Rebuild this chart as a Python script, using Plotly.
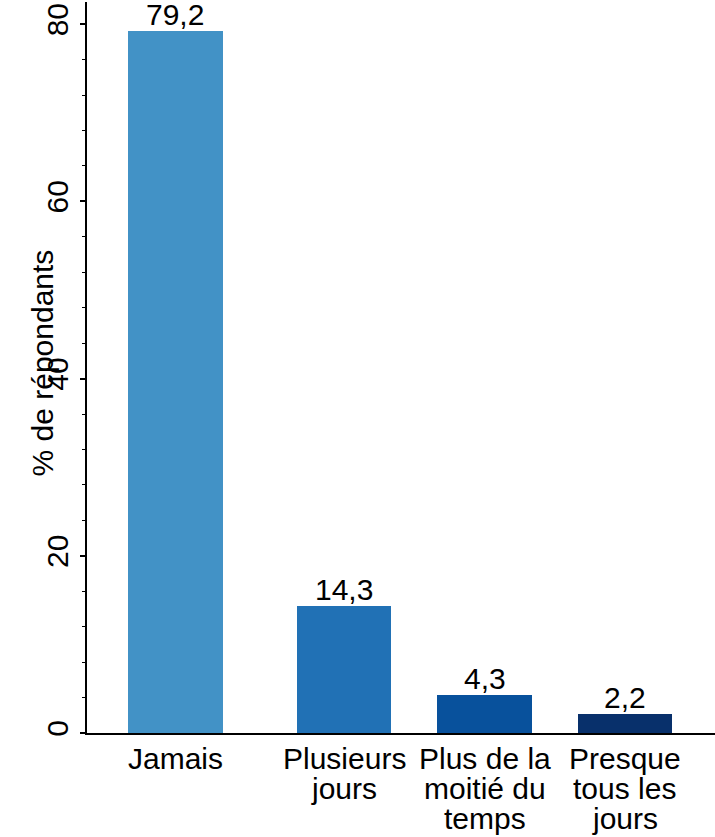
import plotly.graph_objects as go

# ---- data ----
categories = ["Jamais", "Plusieurs<br>jours", "Plus de la<br>moitié du<br>temps", "Presque<br>tous les<br>jours"]
values = [79.2, 14.3, 4.3, 2.2]
value_labels = ["79,2", "14,3", "4,3", "2,2"]
y_tick_vals = [0, 20, 40, 60, 80]
y_title = "% de répondants"

# ---- layout / style ----
x_pos = [1, 2.2, 3.2, 4.2]
colors = ["#4292c6", "#2171b5", "#08519c", "#08306b"]
FONT = "Liberation Sans, Arial, Helvetica, sans-serif"
FS = 30

fig = go.Figure()
fig.add_trace(go.Bar(
    x=x_pos, y=values, width=0.67,
    marker=dict(color=colors, line=dict(width=0)),
    hoverinfo="skip",
))

annotations = []
for xp, v, lab in zip(x_pos, values, value_labels):
    annotations.append(dict(
        x=xp, xref="x", y=v, yref="y", yanchor="bottom", xanchor="center",
        text=lab, showarrow=False, yshift=-2,
        font=dict(family=FONT, size=FS, color="black"),
    ))

line_gap = 30
for xp, lab in zip(x_pos, categories):
    for i, line in enumerate(lab.split("<br>")):
        annotations.append(dict(
            x=xp, xref="x", y=0, yref="paper", yanchor="top", xanchor="center",
            text=line, showarrow=False, yshift=-7 - i * line_gap,
            font=dict(family=FONT, size=FS, color="black"),
        ))
annotations.append(dict(
    x=0, xref="paper", y=0.5055, yref="paper", xanchor="center", yanchor="middle",
    xshift=-45, text=y_title, textangle=-90, showarrow=False,
    font=dict(family=FONT, size=FS, color="black"),
))

fig.update_layout(
    width=715, height=837,
    margin=dict(l=87, r=0, t=2, b=104, pad=0),
    plot_bgcolor="white", paper_bgcolor="white",
    showlegend=False, bargap=0,
    font=dict(family=FONT, size=FS, color="black"),
    annotations=annotations,
    xaxis=dict(range=[0.370, 4.841], showgrid=False, zeroline=False,
               showline=True, linecolor="black", linewidth=1.5,
               showticklabels=False, ticks=""),
    yaxis=dict(range=[0, 82.5], showgrid=False, zeroline=False,
               showline=True, linecolor="black", linewidth=1.5,
               tickvals=y_tick_vals, ticks="outside", ticklen=5, tickwidth=1.5,
               tickcolor="black", tickangle=-90,
               tickfont=dict(family=FONT, size=FS, color="black"),
               minor=dict(dtick=4, ticks="outside", ticklen=3, tickwidth=1, tickcolor="black")),
)

fig.write_html("out.html", config={"displayModeBar": False})

# remove the browser's default page margin so the figure sits at the top-left corner
with open("out.html", "r", encoding="utf-8") as f:
    html = f.read()
html = html.replace("<body>", '<body style="margin:0;padding:0;overflow:hidden">', 1)
with open("out.html", "w", encoding="utf-8") as f:
    f.write(html)
